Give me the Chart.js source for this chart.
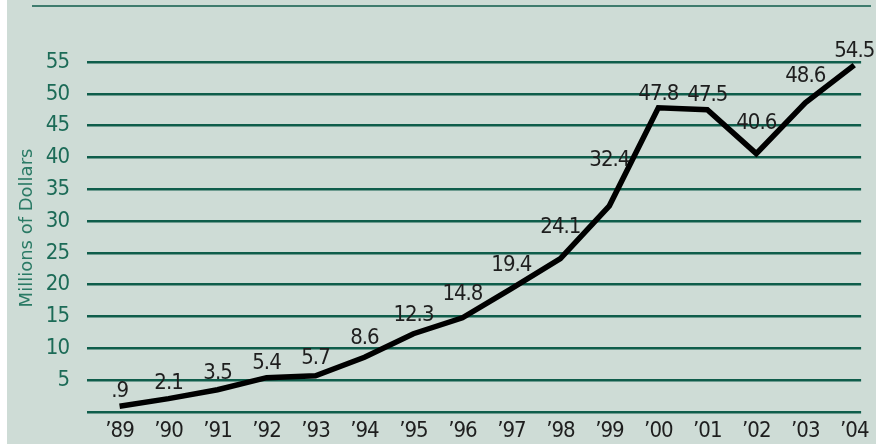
<!DOCTYPE html>
<html>
<head>
<meta charset="utf-8">
<script src="https://cdn.jsdelivr.net/npm/chart.js@4/dist/chart.umd.min.js"></script>
<style>
  html, body { margin: 0; padding: 0; background: #ffffff; }
  canvas { display: block; }
</style>
</head>
<body>
<canvas id="c" width="876" height="444"></canvas>
<script>
// ---- data ----
const years = ['\u201989','\u201990','\u201991','\u201992','\u201993','\u201994','\u201995','\u201996','\u201997','\u201998','\u201999','\u201900','\u201901','\u201902','\u201903','\u201904'];
const revenue = [0.9, 2.1, 3.5, 5.4, 5.7, 8.6, 12.3, 14.8, 19.4, 24.1, 32.4, 47.8, 47.5, 40.6, 48.6, 54.5];
const yTicks = [5, 10, 15, 20, 25, 30, 35, 40, 45, 50, 55];
const yTitle = 'Millions of Dollars';

// ---- style ----
const NARROW = "'Liberation Sans Narrow', 'DejaVu Sans Condensed', 'Arial Narrow', sans-serif";
const WIDE = "'DejaVu Sans', sans-serif";
const BG = '#cedcd6';
const TEAL = '#0f5d4b';
const TEAL_TEXT = '#1c6b57';

const fmt = v => String(v).replace(/^0\./, '.');

const backdrop = {
  id: 'backdrop',
  beforeDraw(chart) {
    const ctx = chart.ctx;
    ctx.save();
    ctx.fillStyle = '#ffffff';
    ctx.fillRect(0, 0, chart.width, chart.height);
    ctx.fillStyle = BG;
    ctx.fillRect(7, 0, chart.width - 7, chart.height);
    ctx.strokeStyle = TEAL;
    ctx.lineWidth = 1.5;
    ctx.beginPath();
    ctx.moveTo(32, 6);
    ctx.lineTo(871, 6);
    ctx.stroke();
    ctx.restore();
    ctx.letterSpacing = '-1px';
  },
  afterDraw(chart) {
    // rotated axis title, centred beside the value scale
    const ctx = chart.ctx;
    ctx.save();
    ctx.letterSpacing = '0px';
    ctx.translate(27, 228);
    ctx.rotate(-Math.PI / 2);
    ctx.font = "18px " + WIDE;
    ctx.fillStyle = '#2a7a65';
    ctx.textAlign = 'center';
    ctx.textBaseline = 'middle';
    ctx.fillText(yTitle, 0, 0);
    ctx.restore();
  }
};

// value labels sit just above the drawn line around each year's tick
const valueLabels = {
  id: 'valueLabels',
  afterDatasetsDraw(chart) {
    const ctx = chart.ctx;
    const xs = chart.scales.x, ys = chart.scales.y;
    const pts = chart.getDatasetMeta(0).data.map(p => ({ x: p.x, y: p.y }));
    const lineY = x => {
      if (x <= pts[0].x) return pts[0].y;
      for (let k = 1; k < pts.length; k++) {
        if (x <= pts[k].x) {
          const a = pts[k - 1], b = pts[k];
          return a.y + (b.y - a.y) * (x - a.x) / (b.x - a.x);
        }
      }
      return pts[pts.length - 1].y;
    };
    ctx.save();
    ctx.letterSpacing = '-1px';
    ctx.font = "22px " + NARROW;
    ctx.fillStyle = '#1e1e1e';
    ctx.textAlign = 'center';
    ctx.textBaseline = 'alphabetic';
    revenue.forEach((v, i) => {
      const text = fmt(v);
      const cx = xs.getPixelForValue(i);
      const hw = ctx.measureText(text).width * 0.4;
      let top = ys.getPixelForValue(v);
      for (let x = cx - hw; x <= cx + hw; x += 1) top = Math.min(top, lineY(x));
      ctx.fillText(text, cx, top - 8);
    });
    ctx.restore();
  }
};

new Chart(document.getElementById('c'), {
  type: 'line',
  data: {
    datasets: [{
      data: revenue.map((v, i) => ({ x: i, y: v })),
      borderColor: '#000000',
      borderWidth: 5.5,
      pointRadius: 0,
      tension: 0,
      fill: false,
      clip: false
    }]
  },
  options: {
    responsive: false,
    animation: false,
    devicePixelRatio: 1,
    layout: { padding: { left: 0, right: 2, top: 62, bottom: 0 } },
    plugins: { legend: { display: false }, tooltip: { enabled: false } },
    scales: {
      x: {
        type: 'linear',
        min: -0.665,
        max: 15.14,
        grid: { display: false, drawTicks: false },
        border: { display: false },
        afterBuildTicks: s => { s.ticks = years.map((_, i) => ({ value: i })); },
        afterFit: s => { s.height = 32; },
        ticks: {
          autoSkip: false,
          maxRotation: 0,
          padding: 6,
          color: '#1e1e1e',
          font: { family: NARROW, size: 22 },
          callback: v => years[v]
        }
      },
      y: {
        min: 0,
        max: 55,
        afterBuildTicks: s => { s.ticks = [0].concat(yTicks).map(v => ({ value: v })); },
        afterFit: s => { s.width = 87; },
        grid: { color: TEAL, lineWidth: 2.5, drawTicks: false },
        border: { display: false },
        title: { display: false },
        ticks: {
          padding: 18,
          color: TEAL_TEXT,
          font: { family: NARROW, size: 22 },
          callback: v => (yTicks.includes(v) ? String(v) : '')
        }
      }
    }
  },
  plugins: [backdrop, valueLabels]
});
</script>
</body>
</html>
